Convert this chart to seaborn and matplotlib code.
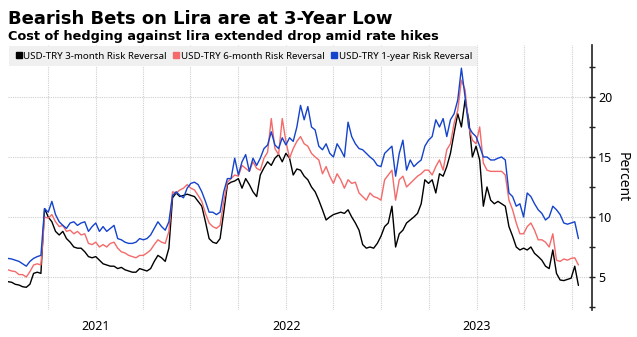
import numpy as np
import pandas as pd
import matplotlib
matplotlib.use("Agg")
import matplotlib.pyplot as plt
from matplotlib.lines import Line2D
import seaborn as sns

dates = pd.date_range("2020-07-17", periods=157, freq="7D")

black = [4.61,4.56,4.39,4.33,4.19,4.14,4.4,5.3,5.4,5.3,
 10.7,10.0,9.6,8.8,8.5,8.8,8.2,7.9,7.5,7.4,
 7.4,7.1,6.7,6.6,6.7,6.4,6.1,6.0,5.9,5.9,
 5.7,5.8,5.6,5.5,5.4,5.4,5.7,5.6,5.5,5.7,
 6.3,6.8,6.6,6.3,7.4,11.6,12.0,11.7,11.8,11.9,
 11.8,11.7,11.3,10.9,9.6,8.2,7.9,7.8,8.2,10.4,
 12.7,12.9,13.0,13.2,12.4,13.2,12.7,12.1,11.7,13.5,
 14.1,14.6,14.3,14.9,15.2,14.6,15.3,14.9,13.5,14.0,
 13.9,13.4,13.1,12.5,12.1,11.4,10.6,9.75,10.0,10.2,
 10.3,10.4,10.3,10.6,10.0,9.5,8.9,7.7,7.4,7.5,
 7.4,7.8,8.4,9.2,9.5,10.9,7.5,8.6,8.9,9.5,
 9.75,10.0,10.3,11.1,13.1,12.8,13.1,12.0,13.6,13.4,
 14.2,15.3,17.0,18.6,17.5,19.75,18.1,15.0,15.9,14.75,
 10.9,12.5,11.4,11.1,11.3,11.1,10.9,9.2,8.4,7.5,
 7.25,7.4,7.25,7.5,6.97,6.7,6.4,5.9,5.7,7.25,
 5.3,4.75,4.7,4.8,4.9,5.9,4.3]

red = [5.6,5.5,5.45,5.2,5.2,5.0,5.45,6.0,6.1,6.0,
 10.0,9.9,10.2,9.6,9.2,9.3,8.8,8.9,8.6,8.8,
 8.5,8.6,7.8,7.7,7.9,7.5,7.7,7.5,7.8,7.9,
 7.4,7.1,7.0,6.8,6.7,6.6,6.8,6.8,7.0,7.25,
 7.7,8.1,7.9,7.8,8.8,12.1,12.0,12.25,12.4,12.7,
 12.4,12.25,11.8,11.3,10.3,9.5,9.2,9.05,9.3,11.3,
 12.9,13.2,13.5,13.4,14.3,14.05,13.8,14.6,14.05,13.9,
 14.9,15.4,18.2,15.7,15.2,18.2,16.3,14.9,15.7,16.3,
 16.7,16.1,15.9,15.3,15.0,14.75,13.6,14.2,13.4,12.8,
 13.6,13.1,12.4,13.1,12.8,12.9,12.0,11.7,11.4,12.0,
 11.7,11.6,11.4,13.1,13.5,13.9,11.4,13.1,13.4,12.5,
 12.8,13.1,13.4,13.6,13.9,13.9,13.5,14.2,14.75,13.9,
 15.6,16.1,17.8,18.9,21.4,20.6,17.5,16.4,16.1,17.5,
 14.5,13.9,13.8,13.8,13.8,13.8,13.5,11.4,10.6,9.5,
 8.6,8.6,9.2,9.5,8.9,8.1,8.1,7.9,7.5,8.6,
 6.4,6.3,6.5,6.4,6.55,6.6,6.0]

blue = [6.55,6.5,6.4,6.3,6.1,5.9,6.3,6.55,6.7,6.8,
 10.7,10.4,11.3,10.2,9.6,9.3,9.05,9.5,9.6,9.3,
 9.5,9.6,8.8,9.2,9.5,8.8,9.2,8.8,9.05,9.3,
 8.2,8.1,7.9,7.8,7.8,7.9,8.2,8.1,8.2,8.5,
 9.05,9.6,9.2,8.9,9.6,11.8,12.1,11.8,11.6,12.4,
 12.8,12.9,12.7,12.1,11.3,10.4,10.4,10.2,10.4,12.1,
 13.2,13.2,14.9,13.5,14.6,15.2,13.8,14.9,14.3,14.9,
 15.7,16.0,17.1,16.0,15.7,16.6,16.0,16.6,16.3,17.5,
 19.3,18.1,19.2,17.5,17.25,15.9,15.6,16.1,15.3,15.0,
 16.1,15.6,15.0,17.9,16.7,16.1,15.7,15.6,15.3,15.0,
 14.75,14.3,14.2,15.3,15.6,15.9,13.4,15.3,16.4,13.9,
 14.75,14.2,14.5,14.75,15.9,16.4,16.7,18.1,17.5,18.2,
 16.7,18.1,18.6,19.75,22.4,20.0,17.5,17.0,16.7,15.9,
 15.0,15.0,14.75,14.75,14.9,15.0,14.75,12.0,11.7,10.9,
 11.1,10.0,12.0,11.7,11.1,10.6,10.3,9.75,10.0,10.9,
 10.6,10.2,9.5,9.4,9.5,9.6,8.2]

series_names = ["USD-TRY 3-month Risk Reversal",
                "USD-TRY 6-month Risk Reversal",
                "USD-TRY 1-year Risk Reversal"]
colors = ["#000000", "#f46a6a", "#1443cc"]
year_labels = ["2021", "2022", "2023"]
y_ticks = [5, 10, 15, 20]

sns.set_style("white")
plt.rcParams["font.family"] = ["Noto Sans", "DejaVu Sans"]
plt.rcParams["text.color"] = "black"
plt.rcParams["axes.labelcolor"] = "black"
plt.rcParams["xtick.color"] = "black"
plt.rcParams["ytick.color"] = "black"

df = pd.DataFrame({
    "date": np.tile(dates, 3),
    "value": black + red + blue,
    "series": np.repeat(series_names, len(dates)),
})

fig = plt.figure(figsize=(6.37, 3.37), dpi=100)
ax = fig.add_axes([8/637, 1 - 310/337, (592 - 8)/637, (310 - 45)/337])

sns.lineplot(data=df, x="date", y="value", hue="series",
             palette=dict(zip(series_names, colors)), linewidth=1.0,
             ax=ax, legend=False)

ax.set_ylim(2.25, 24.33)
ax.set_xlim(pd.Timestamp("2020-07-17"), pd.Timestamp("2023-08-09"))

quarters = pd.date_range("2020-10-01", "2023-07-01", freq="QS")
ax.set_xticks([pd.Timestamp(f"{y}-01-01") for y in year_labels])
ax.set_xticklabels(year_labels)
ax.grid(False)
for q in quarters:
    ax.axvline(q, color="#cfcfcf", lw=0.8, ls=(0, (1, 1)), zorder=0)
for yv in y_ticks:
    ax.axhline(yv, color="#cfcfcf", lw=0.8, ls=(0, (1, 1)), zorder=0)

ax.tick_params(axis="x", which="both", length=0, labelsize=9, pad=7,
               labelcolor="black")

ax.yaxis.tick_right()
ax.yaxis.set_label_position("right")
ax.set_yticks(y_ticks)
ax.set_yticks([2.5, 7.5, 12.5, 17.5, 22.5], minor=True)
ax.tick_params(axis="y", which="major", direction="inout", length=5, width=1,
               color="#222222", labelsize=9, pad=2, labelcolor="black")
ax.tick_params(axis="y", which="minor", direction="inout", length=4, width=1,
               color="#222222")
ax.set_ylabel("Percent", rotation=270, fontsize=10, labelpad=12, color="black")
ax.set_xlabel("")

for s in ["top", "left", "bottom"]:
    ax.spines[s].set_visible(False)
ax.spines["right"].set_color("#222222")
ax.spines["right"].set_linewidth(1.2)

handles = [Line2D([], [], marker="s", ls="none", color=c, markersize=5) for c in colors]
leg = ax.legend(handles, series_names, loc="upper left", bbox_to_anchor=(0.0, 1.0),
                ncol=3, fontsize=7, frameon=True, handletextpad=0.05,
                columnspacing=0.6, handlelength=0.8, borderpad=0.55,
                borderaxespad=0.15, fancybox=False)
leg.get_frame().set_facecolor("#f0f0f0")
leg.get_frame().set_edgecolor("none")
leg.get_frame().set_alpha(1)
for t in leg.get_texts():
    t.set_color("black")

fig.text(8/637, 1 - 24/337, "Bearish Bets on Lira are at 3-Year Low",
         fontsize=13, fontweight="bold", family="DejaVu Sans", color="black",
         ha="left", va="baseline")
fig.text(8/637, 1 - 40/337, "Cost of hedging against lira extended drop amid rate hikes",
         fontsize=9.3, fontweight="bold", family="DejaVu Sans", color="black",
         ha="left", va="baseline")

fig.savefig("out.png", dpi=100)
